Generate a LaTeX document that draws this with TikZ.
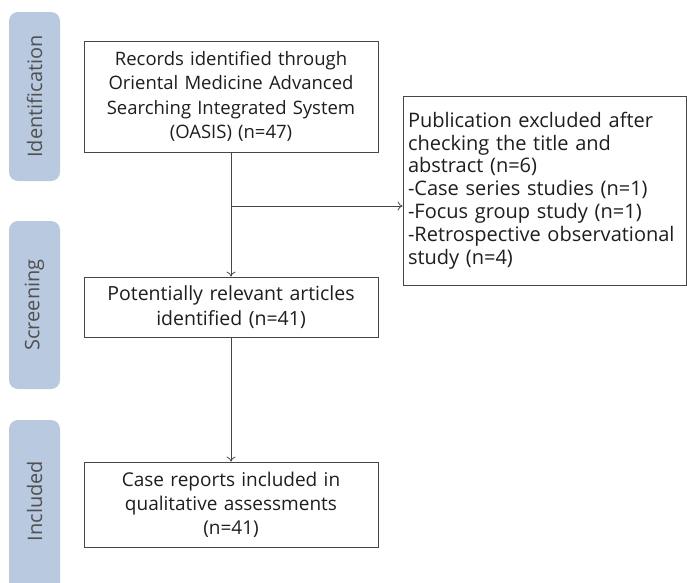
\documentclass[tikz,border=0pt]{standalone}
\usepackage{fontspec}
\setmainfont[WordSpace=1.5]{Open Sans}
\usetikzlibrary{arrows.meta}
\definecolor{band}{RGB}{185,201,224}
\definecolor{bandtext}{RGB}{80,80,80}
\definecolor{linec}{RGB}{70,70,70}
\definecolor{txt}{RGB}{30,30,30}
\tikzset{
  bandbox/.style={fill=band, draw=none, rounded corners=9pt},
  bandlabel/.style={rotate=90, text=bandtext, font=\fontsize{20}{22}\selectfont},
  flowbox/.style={draw=linec, line width=0.8pt, fill=white, text=txt, align=center,
    inner sep=0pt, minimum width=294pt, text width=292pt},
  exbox/.style={draw=linec, line width=0.8pt, fill=white, text=txt, align=left,
    font=\fontsize{20}{22.8}\selectfont, inner sep=0pt},
  arr/.style={draw=linec, line width=0.8pt, -{To[length=5pt,width=9pt]}},
}
\begin{document}
\begin{tikzpicture}[x=1pt,y=-1pt]
\useasboundingbox (0,0) rectangle (687,582);
\clip (0,0) rectangle (687,582);
\fill[white] (0,0) rectangle (687,582);
% bands
\path[bandbox] (9,12) rectangle (60,181);
\path[bandbox] (9,221) rectangle (60,389);
\path[bandbox] (9,420) rectangle (60,610);
\node[bandlabel] (l1) at (34.5,96.5) {Identification};
\node[bandlabel] (l2) at (34.5,305) {Screening};
\node[bandlabel] (l3) at (34.5,501) {Included};
% boxes
\node[flowbox, minimum height=111pt, font=\fontsize{18.5}{24.5}\selectfont] (b1) at (231,96.5)
  {Records identified through\\Oriental Medicine Advanced\\Searching Integrated System\\(OASIS) (n=47)};
\node[flowbox, minimum height=60pt, font=\fontsize{19.5}{25}\selectfont] (b2) at (231,307)
  {Potentially relevant articles\\identified (n=41)};
\node[flowbox, minimum height=85pt, font=\fontsize{19}{24}\selectfont] (b4) at (231,504.5)
  {Case reports included in\\qualitative assessments\\(n=41)};
\node[exbox, minimum width=283pt, minimum height=189pt, text width=273pt] (b3) at (544.5,190.5)
  {Publication excluded after\\checking the title and\\abstract (n=6)\\-Case series studies (n=1)\\-Focus group study (n=1)\\-Retrospective observational\\study (n=4)};
% connectors
\coordinate (j) at (231,206);
\draw[arr] (b1) -- (b2);
\draw[arr] (b2) -- (b4);
\draw[arr] (j) -- (j -| b3.west);
\end{tikzpicture}
\end{document}
